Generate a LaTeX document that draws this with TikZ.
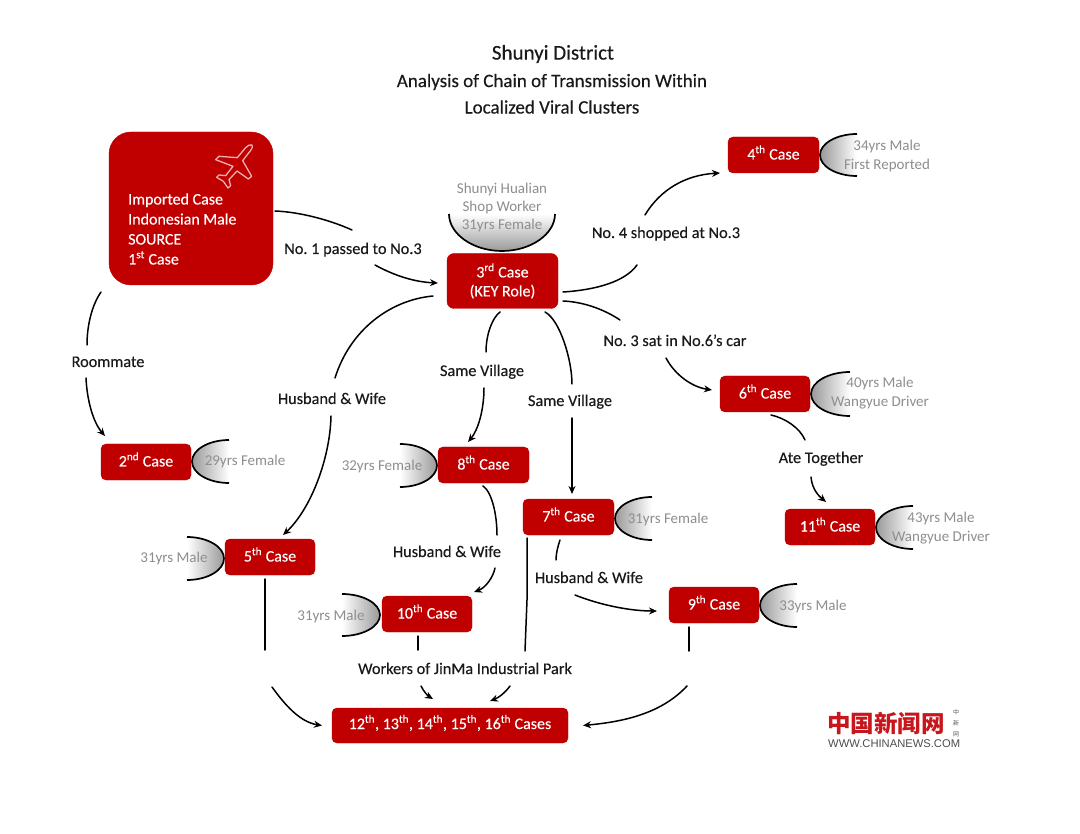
\documentclass[tikz,border=0pt]{standalone}
\usepackage{fontspec}
\setmainfont{Carlito}[FakeBold=0.25]
\newfontfamily\plainfont{Carlito}
\newfontfamily\cjkfont{Noto Sans CJK SC}
\newfontfamily\logofont{Liberation Sans}
\usetikzlibrary{arrows.meta}
\frenchspacing
\definecolor{boxred}{HTML}{C00000}
\definecolor{persongray}{HTML}{8E8E8E}
\definecolor{logored}{HTML}{C8161D}
\tikzset{
  casebox/.style={fill=boxred,draw=boxred,rounded corners=5pt,text=white,font=\fontsize{16}{18}\selectfont,align=center,inner sep=0pt,text height=11pt,text depth=2pt},
  linklabel/.style={font=\fontsize{16.3}{18}\selectfont,text=black!90,inner sep=0pt,align=center,text height=12pt,text depth=2pt},
  person/.style={font=\plainfont\fontsize{15}{18.3}\selectfont,text=persongray,inner sep=0pt,align=center},
  titletext/.style={font=\fontsize{19}{22}\selectfont,text=black!90,inner sep=0pt},
  link/.style={line width=1.5pt,black,line cap=round},
  linkarrow/.style={link,-{Stealth[length=8pt,width=7pt]}},
  cupline/.style={line width=1.7pt,black},
  lobeshadeH/.style={left color=black!40,middle color=black!3,right color=white,draw=none},
  lobeshadeF/.style={right color=black!40,middle color=black!3,left color=white,draw=none},
}
% half ellipse whose vertex is at (#1,#2), opening over #3 (signed) with half height #4
\newcommand{\lobe}[5]{%
  \path[#5] (#1+#3,#2-#4) .. controls (#1+0.45*#3,#2-#4) and (#1,#2-0.55*#4) .. (#1,#2)
     .. controls (#1,#2+0.55*#4) and (#1+0.45*#3,#2+#4) .. (#1+#3,#2+#4) -- cycle;
  \draw[cupline] (#1+#3,#2-#4) .. controls (#1+0.45*#3,#2-#4) and (#1,#2-0.55*#4) .. (#1,#2)
     .. controls (#1,#2+0.55*#4) and (#1+0.45*#3,#2+#4) .. (#1+#3,#2+#4);}
\begin{document}
\begin{tikzpicture}[x=1pt,y=-1pt]
\useasboundingbox (0,0) rectangle (1080,834);
\fill[white] (0,0) rectangle (1080,834);

% titles
\node[titletext,font=\fontsize{21}{24}\selectfont] (t1) at (553,54) {Shunyi District};
\node[titletext] (t2) at (552,82) {Analysis of Chain of Transmission Within};
\node[titletext] (t3) at (552,107) {Localized Viral Clusters};

% lobes
\lobe{820}{155}{37}{21}{lobeshadeH}
\lobe{811}{394}{39}{22}{lobeshadeH}
\lobe{192}{461.5}{37}{21.5}{lobeshadeH}
\lobe{615}{518.5}{37}{21.5}{lobeshadeH}
\lobe{760}{605.5}{37}{21.5}{lobeshadeH}
\lobe{876}{527.5}{37}{21.5}{lobeshadeH}
\lobe{437}{465.5}{-37}{21.5}{lobeshadeF}
\lobe{224}{558.5}{-37}{21.5}{lobeshadeF}
\lobe{380}{615}{-38}{21}{lobeshadeF}
% lobe above case 3
\path[top color=white,middle color=black!3,bottom color=black!40]
  (449,214) .. controls (449,234) and (473,251) .. (502,251) .. controls (531,251) and (555,234) .. (555,214) -- cycle;
\draw[cupline] (449,214) .. controls (449,234) and (473,251) .. (502,251) .. controls (531,251) and (555,234) .. (555,214);

% case boxes
\node[casebox,text height=,text depth=,rounded corners=22pt,minimum width=164pt,minimum height=153pt] (c1) at (191,208.5) {};
\node[casebox,text height=,text depth=,minimum width=111pt,minimum height=55pt,rounded corners=7pt] (c3) at (502.5,281) {3\textsuperscript{rd} Case\\[1pt](KEY Role)};
\node[casebox,minimum width=91pt,minimum height=36pt] (c4) at (773.5,155) {4\textsuperscript{th} Case};
\node[casebox,minimum width=90pt,minimum height=36pt] (c6) at (765,394) {6\textsuperscript{th} Case};
\node[casebox,minimum width=90pt,minimum height=36pt] (c2) at (146,462) {2\textsuperscript{nd} Case};
\node[casebox,minimum width=91pt,minimum height=36pt] (c8) at (483.5,465) {8\textsuperscript{th} Case};
\node[casebox,minimum width=91pt,minimum height=36pt] (c7) at (568.5,517) {7\textsuperscript{th} Case};
\node[casebox,minimum width=90pt,minimum height=36pt] (c5) at (270,557) {5\textsuperscript{th} Case};
\node[casebox,minimum width=90pt,minimum height=36pt] (c10) at (427,614) {10\textsuperscript{th} Case};
\node[casebox,minimum width=90pt,minimum height=36pt] (c9) at (714,605) {9\textsuperscript{th} Case};
\node[casebox,minimum width=90pt,minimum height=36pt] (c11) at (830,527) {11\textsuperscript{th} Case};
\node[casebox,text depth=4pt,minimum width=236pt,minimum height=35pt] (c12) at (450,725.5) {12\textsuperscript{th}, 13\textsuperscript{th}, 14\textsuperscript{th}, 15\textsuperscript{th}, 16\textsuperscript{th} Cases};

% text of the source case
\node[font=\fontsize{16}{20}\selectfont,text=white,align=left,inner sep=0pt,anchor=west] (c1text) at (128,229) {Imported Case\\Indonesian Male\\SOURCE\\1\textsuperscript{st} Case};

% aeroplane
\begin{scope}[shift={(205,135)},x=0.3333pt,y=-0.3333pt]
\draw[white!70!boxred,line width=1.3pt,line join=round,fill=boxred]
 (141,30) .. controls (136,27) and (128,32) .. (122,38) -- (97,68) -- (42,64) -- (32,74) -- (84,94)
 -- (62,122) -- (42,120) -- (35,127) -- (55,139) -- (69,159) -- (77,152) -- (72,134) -- (96,108)
 -- (130,132) -- (140,124) -- (113,77) -- (138,45) .. controls (142,40) and (144,33) .. (141,30) -- cycle;
\end{scope}

% link labels
\node[linklabel] (l13) at (353,249) {No. 1 passed to No.3};
\node[linklabel] (l34) at (666,233) {No. 4 shopped at No.3};
\node[linklabel] (l36) at (675,341) {No. 3 sat in No.6’s car};
\node[linklabel] (lhw1) at (332,399) {Husband \& Wife};
\node[linklabel] (lsv1) at (482,371) {Same Village};
\node[linklabel] (lsv2) at (570,401) {Same Village};
\node[linklabel] (lrm) at (108,362) {Roommate};
\node[linklabel] (lhw2) at (447,552) {Husband \& Wife};
\node[linklabel] (lhw3) at (589,578) {Husband \& Wife};
\node[linklabel] (lat) at (821,458) {Ate Together};
\node[linklabel] (lwk) at (465,669) {Workers of JinMa Industrial Park};

% person labels
\node[person] (p3) at (502,207.5) {Shunyi Hualian\\Shop Worker\\31yrs Female};
\node[person] (p4) at (887,156) {34yrs Male\\First Reported};
\node[person] (p6) at (880,393) {40yrs Male\\Wangyue Driver};
\node[person] (p2) at (245,462) {29yrs Female};
\node[person] (p8) at (382,467) {32yrs Female};
\node[person] (p7) at (668,520) {31yrs Female};
\node[person] (p5) at (174,559) {31yrs Male};
\node[person] (p10) at (331,616) {31yrs Male};
\node[person] (p9) at (813,606.5) {33yrs Male};
\node[person] (p11) at (941,528) {43yrs Male\\Wangyue Driver};

% connectors
\draw[link] ([shift={(84,2.5)}]c1.center) .. controls (300,212) and (330,220) .. ([shift={(-1,-19)}]l13.center);
\draw[linkarrow] ([shift={(22,16)}]l13.center) .. controls (395,276) and (415,282) .. ([shift={(-64.5,2)}]c3.center);

\draw[link] ([shift={(60.5,11)}]c3.center) .. controls (595,290) and (625,282) .. ([shift={(-29,32)}]l34.center);
\draw[linkarrow] ([shift={(-21,-18)}]l34.center) .. controls (660,190) and (685,175) .. ([shift={(-53.5,18)}]c4.center);

\draw[link] ([shift={(60.5,20)}]c3.center) .. controls (585,302) and (605,310) .. ([shift={(-55,-21)}]l36.center);
\draw[linkarrow] ([shift={(-9,17)}]l36.center) .. controls (675,375) and (692,387) .. ([shift={(-53,-4)}]c6.center);

\draw[link] ([shift={(-69.5,15)}]c3.center) .. controls (390,300) and (350,330) .. ([shift={(3,-21)}]lhw1.center);
\draw[linkarrow] ([shift={(-1,17)}]lhw1.center) .. controls (330,460) and (310,510) .. ([shift={(13,-22)}]c5.center);

\draw[link] ([shift={(-2.5,31)}]c3.center) .. controls (492,318) and (486,335) .. ([shift={(4,-19)}]lsv1.center);
\draw[linkarrow] ([shift={(2,17)}]lsv1.center) .. controls (484,410) and (478,430) .. ([shift={(-15.5,-23)}]c8.center);

\draw[link] ([shift={(42.5,31)}]c3.center) .. controls (560,320) and (572,360) .. ([shift={(2,-17)}]lsv2.center);
\draw[linkarrow] ([shift={(2,17)}]lsv2.center) -- ([shift={(3.5,-23)}]c7.center);

\draw[link] ([shift={(-90,83.5)}]c1.center) .. controls (92,305) and (87,325) .. ([shift={(-21,-17)}]lrm.center);
\draw[linkarrow] ([shift={(-22,16)}]lrm.center) .. controls (87,400) and (93,422) .. ([shift={(-41,-26)}]c2.center);

\draw[link] ([shift={(-0.5,21)}]c8.center) .. controls (492,492) and (497,515) .. ([shift={(50,-17)}]lhw2.center);
\draw[linkarrow] ([shift={(48,16)}]lhw2.center) .. controls (493,578) and (485,588) .. ([shift={(47,-22)}]c10.center);

\draw[link] ([shift={(-8.5,23)}]c7.center) .. controls (558,546) and (556,553) .. ([shift={(-33,-18)}]lhw3.center);
\draw[linkarrow] ([shift={(-14,17)}]lhw3.center) .. controls (600,605) and (630,611) .. ([shift={(-57,6)}]c9.center);

\draw[link] ([shift={(6,21)}]c6.center) .. controls (785,418) and (800,428) .. ([shift={(-16,-18)}]lat.center);
\draw[linkarrow] ([shift={(-10,19)}]lat.center) .. controls (812,490) and (820,497) .. ([shift={(-4,-25)}]c11.center);

\draw[link] ([shift={(-5,22)}]c5.center) -- ([shift={(-200,-19)}]lwk.center);
\draw[linkarrow] ([shift={(-193,18)}]lwk.center) .. controls (285,705) and (300,722) .. ([shift={(-128,0)}]c12.center);

\draw[link] ([shift={(-9,22)}]c10.center) -- ([shift={(-47,-19)}]lwk.center);
\draw[linkarrow] ([shift={(-44,17)}]lwk.center) .. controls (424,692) and (428,696) .. ([shift={(-17,-26.5)}]c12.center);

\draw[link] ([shift={(-41.5,21)}]c7.center) -- (527,600) -- ([shift={(60,-18)}]lwk.center);
\draw[linkarrow] ([shift={(45,17)}]lwk.center) .. controls (505,693) and (498,698) .. ([shift={(40,-24.5)}]c12.center);

\draw[link] ([shift={(-25,22)}]c9.center) -- ([shift={(224,-18)}]lwk.center);
\draw[linkarrow] ([shift={(222,17)}]lwk.center) .. controls (660,715) and (620,722) .. ([shift={(133,0)}]c12.center);

% logo
\node[inner sep=0pt,text=logored,font=\cjkfont\bfseries\fontsize{23.5}{24}\selectfont,anchor=west] (logo) at (827,723) {中国新闻网};
\node[inner sep=0pt,text=black!65,font=\cjkfont\fontsize{6}{11}\selectfont,align=center] (logoside) at (956,723) {中\\新\\网};
\node[inner sep=0pt,text=black!70,font=\logofont\fontsize{11.2}{12}\selectfont,anchor=west] (logourl) at (828,744) {WWW.CHINANEWS.COM};
\end{tikzpicture}
\end{document}
